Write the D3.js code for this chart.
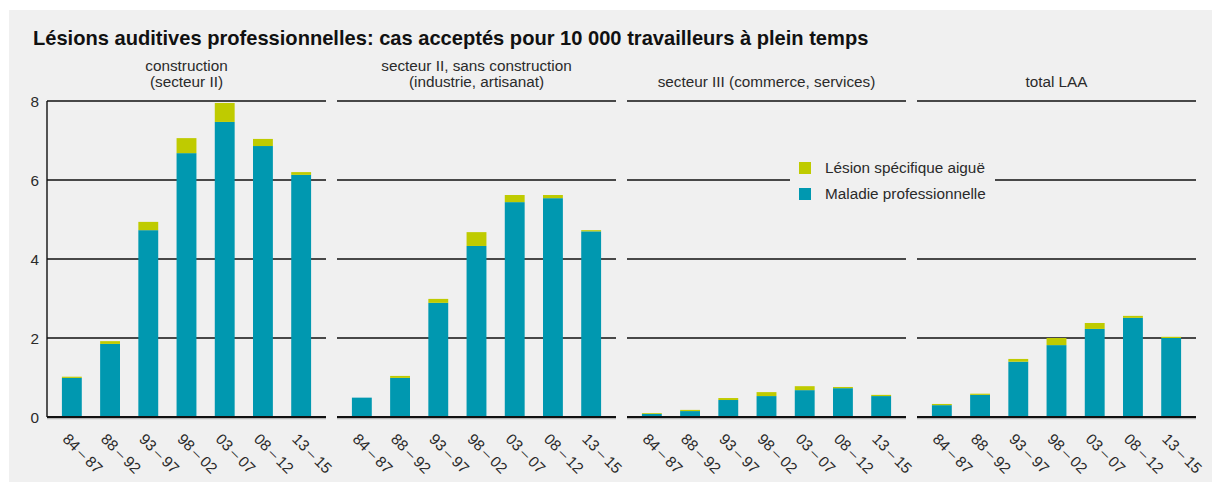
<!DOCTYPE html>
<html>
<head>
<meta charset="utf-8">
<script src="https://cdn.jsdelivr.net/npm/d3@7"></script>
<style>
  html, body { margin: 0; padding: 0; background: #ffffff; }
  svg { display: block; }
  text { font-family: "Liberation Sans", Arial, Helvetica, sans-serif; }
</style>
</head>
<body>
<svg id="chart" width="1212" height="482"></svg>
<script>
// Periods on the x axis
const periods = ["84\u2009–\u200987", "88\u2009–\u200992", "93\u2009–\u200997", "98\u2009–\u200902", "03\u2009–\u200907", "08\u2009–\u200912", "13\u2009–\u200915"];

// Panel headings (one array of lines per sector)
const sectorHeaders = [
  ["construction", "(secteur II)"],
  ["secteur II, sans construction", "(industrie, artisanat)"],
  ["secteur III (commerce, services)"],
  ["total LAA"]
];

// Maladie professionnelle, cases per 10 000 full-time workers
const maladieConstruction = [0.99, 1.85, 4.73, 6.68, 7.47, 6.86, 6.13];
const maladieIndustrie    = [0.49, 0.99, 2.89, 4.33, 5.44, 5.54, 4.70];
const maladieServices     = [0.08, 0.15, 0.43, 0.53, 0.68, 0.73, 0.53];
const maladieTotal        = [0.30, 0.56, 1.40, 1.82, 2.23, 2.51, 2.00];

// Lésion spécifique aiguë, cases per 10 000 full-time workers
const lesionConstruction = [0.03, 0.07, 0.21, 0.38, 0.48, 0.18, 0.07];
const lesionIndustrie    = [0.00, 0.05, 0.10, 0.35, 0.18, 0.08, 0.03];
const lesionServices     = [0.02, 0.03, 0.05, 0.10, 0.10, 0.03, 0.03];
const lesionTotal        = [0.03, 0.03, 0.07, 0.18, 0.15, 0.05, 0.03];

const yTicks = [0, 2, 4, 6, 8];
const seriesKeys = ["Maladie professionnelle", "Lésion spécifique aiguë"];
const legendOrder = ["Lésion spécifique aiguë", "Maladie professionnelle"];
const colors = { "Maladie professionnelle": "#0098b0", "Lésion spécifique aiguë": "#bfcb00" };

const panelMaladie = [maladieConstruction, maladieIndustrie, maladieServices, maladieTotal];
const panelLesion = [lesionConstruction, lesionIndustrie, lesionServices, lesionTotal];

const svg = d3.select("#chart");
const labelSize = 15.3;

// Page background
svg.append("rect")
  .attr("x", 9).attr("y", 10)
  .attr("width", 1212 - 9).attr("height", 482 - 10)
  .attr("fill", "#f0f0f0");

// Title
svg.append("text")
  .attr("x", 33).attr("y", 45)
  .attr("font-size", 20.1)
  .attr("font-weight", "bold")
  .attr("fill", "#111")
  .text("Lésions auditives professionnelles: cas acceptés pour 10 000 travailleurs à plein temps");

const panelLeft = 47, panelWidth = 279, panelGap = 11;
const y = d3.scaleLinear().domain([0, 8]).range([417, 101]);
const x = d3.scaleBand().domain(periods).range([0, panelWidth])
  .paddingInner(0.48).paddingOuter(0.39);

const stack = d3.stack().keys(seriesKeys);

sectorHeaders.forEach((header, p) => {
  const g = svg.append("g")
    .attr("transform", `translate(${panelLeft + p * (panelWidth + panelGap)},0)`);

  // Panel heading
  header.forEach((line, i) => {
    g.append("text")
      .attr("x", panelWidth / 2)
      .attr("y", header.length === 2 ? 71 + i * 16 : 87)
      .attr("text-anchor", "middle")
      .attr("font-size", labelSize)
      .attr("fill", "#2a2a2a")
      .text(line);
  });

  // Horizontal grid lines
  g.selectAll("line.grid")
    .data(yTicks.filter(t => t > 0))
    .join("line")
    .attr("class", "grid")
    .attr("x1", 0).attr("x2", panelWidth)
    .attr("y1", d => y(d)).attr("y2", d => y(d))
    .attr("stroke", "#111").attr("stroke-width", 1.4);

  // Stacked bars
  const rows = periods.map((period, i) => ({
    period,
    "Maladie professionnelle": panelMaladie[p][i],
    "Lésion spécifique aiguë": panelLesion[p][i]
  }));
  const layers = stack(rows);
  g.selectAll("g.layer")
    .data(layers)
    .join("g")
    .attr("class", "layer")
    .attr("fill", d => colors[d.key])
    .selectAll("rect")
    .data(d => d)
    .join("rect")
    .attr("x", d => x(d.data.period))
    .attr("width", x.bandwidth())
    .attr("y", d => y(d[1]))
    .attr("height", d => y(d[0]) - y(d[1]));

  // Baseline with a soft shadow
  g.append("line")
    .attr("x1", 0).attr("x2", panelWidth)
    .attr("y1", y(0) + 1.6).attr("y2", y(0) + 1.6)
    .attr("stroke", "#b5b5b5").attr("stroke-width", 1.2);
  g.append("line")
    .attr("x1", 0).attr("x2", panelWidth)
    .attr("y1", y(0)).attr("y2", y(0))
    .attr("stroke", "#111").attr("stroke-width", 1.8);

  // Period labels
  g.selectAll("text.period")
    .data(periods)
    .join("text")
    .attr("class", "period")
    .attr("transform", d => `translate(${x(d) + x.bandwidth() / 2 - 10},440) rotate(45)`)
    .attr("font-size", labelSize)
    .attr("fill", "#2a2a2a")
    .text(d => d);

  // Value axis on the first panel only
  if (p === 0) {
    g.append("line")
      .attr("x1", 0).attr("x2", 0)
      .attr("y1", y(8)).attr("y2", y(0))
      .attr("stroke", "#111").attr("stroke-width", 1.4);
    g.selectAll("text.ytick")
      .data(yTicks)
      .join("text")
      .attr("class", "ytick")
      .attr("x", -8)
      .attr("y", d => y(d))
      .attr("dy", "0.36em")
      .attr("text-anchor", "end")
      .attr("font-size", labelSize)
      .attr("fill", "#2a2a2a")
      .text(d => d);
  }
});

// Legend (with its own background masking the grid line behind it)
const legend = svg.append("g");
legend.append("rect")
  .attr("x", 790).attr("y", 155).attr("width", 205).attr("height", 50)
  .attr("fill", "#f0f0f0");
legendOrder.forEach((key, i) => {
  legend.append("rect")
    .attr("x", 799).attr("y", 162 + i * 26)
    .attr("width", 12).attr("height", 12)
    .attr("fill", colors[key]);
  legend.append("text")
    .attr("x", 825).attr("y", 173 + i * 26)
    .attr("font-size", labelSize)
    .attr("fill", "#2a2a2a")
    .text(key);
});
</script>
</body>
</html>
